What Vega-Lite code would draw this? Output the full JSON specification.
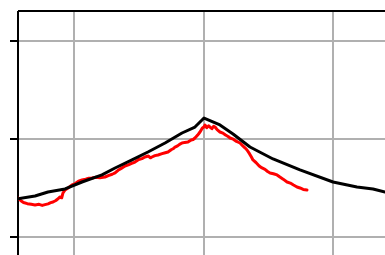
{
  "$schema": "https://vega.github.io/schema/vega-lite/v6.json",
  "width": 367,
  "height": 244,
  "autosize": {"type": "none"},
  "padding": {"left": 18, "top": 11, "right": 0, "bottom": 0},
  "background": "white",
  "config": {"view": {"stroke": null}},
  "datasets": {
    "model": [
      {"x": 0.560, "y": 0.388}, {"x": 0.699, "y": 0.418}, {"x": 0.799, "y": 0.459},
      {"x": 0.931, "y": 0.490}, {"x": 1.062, "y": 0.561}, {"x": 1.216, "y": 0.633},
      {"x": 1.317, "y": 0.704}, {"x": 1.448, "y": 0.786}, {"x": 1.571, "y": 0.867},
      {"x": 1.703, "y": 0.959}, {"x": 1.834, "y": 1.061}, {"x": 1.934, "y": 1.122},
      {"x": 2.004, "y": 1.214}, {"x": 2.127, "y": 1.143}, {"x": 2.228, "y": 1.051},
      {"x": 2.359, "y": 0.918}, {"x": 2.537, "y": 0.796}, {"x": 2.745, "y": 0.684},
      {"x": 3.000, "y": 0.561}, {"x": 3.185, "y": 0.510}, {"x": 3.309, "y": 0.490},
      {"x": 3.402, "y": 0.459}
    ],
    "obs": [
      {"x": 0.568, "y": 0.398}, {"x": 0.590, "y": 0.370}, {"x": 0.610, "y": 0.352},
      {"x": 0.640, "y": 0.340}, {"x": 0.670, "y": 0.333}, {"x": 0.699, "y": 0.327},
      {"x": 0.730, "y": 0.333}, {"x": 0.755, "y": 0.322}, {"x": 0.776, "y": 0.330},
      {"x": 0.800, "y": 0.338}, {"x": 0.820, "y": 0.350}, {"x": 0.838, "y": 0.357},
      {"x": 0.860, "y": 0.372}, {"x": 0.878, "y": 0.392}, {"x": 0.892, "y": 0.408},
      {"x": 0.905, "y": 0.400}, {"x": 0.915, "y": 0.449}, {"x": 0.931, "y": 0.480},
      {"x": 0.960, "y": 0.505}, {"x": 0.985, "y": 0.531}, {"x": 1.010, "y": 0.545},
      {"x": 1.035, "y": 0.570}, {"x": 1.062, "y": 0.582}, {"x": 1.090, "y": 0.590},
      {"x": 1.115, "y": 0.600}, {"x": 1.139, "y": 0.602}, {"x": 1.170, "y": 0.610},
      {"x": 1.200, "y": 0.604}, {"x": 1.239, "y": 0.612}, {"x": 1.270, "y": 0.628},
      {"x": 1.295, "y": 0.640}, {"x": 1.317, "y": 0.653}, {"x": 1.340, "y": 0.680},
      {"x": 1.365, "y": 0.700}, {"x": 1.394, "y": 0.724}, {"x": 1.420, "y": 0.735},
      {"x": 1.445, "y": 0.750}, {"x": 1.471, "y": 0.765}, {"x": 1.500, "y": 0.790},
      {"x": 1.525, "y": 0.800}, {"x": 1.548, "y": 0.816}, {"x": 1.575, "y": 0.826},
      {"x": 1.590, "y": 0.808}, {"x": 1.602, "y": 0.816}, {"x": 1.625, "y": 0.830},
      {"x": 1.649, "y": 0.837}, {"x": 1.680, "y": 0.850}, {"x": 1.705, "y": 0.860},
      {"x": 1.726, "y": 0.867}, {"x": 1.750, "y": 0.890}, {"x": 1.765, "y": 0.900},
      {"x": 1.780, "y": 0.918}, {"x": 1.800, "y": 0.930}, {"x": 1.815, "y": 0.945},
      {"x": 1.834, "y": 0.959}, {"x": 1.855, "y": 0.965}, {"x": 1.880, "y": 0.969},
      {"x": 1.905, "y": 0.990}, {"x": 1.920, "y": 0.995}, {"x": 1.934, "y": 1.010},
      {"x": 1.955, "y": 1.040}, {"x": 1.973, "y": 1.071}, {"x": 1.990, "y": 1.110},
      {"x": 2.005, "y": 1.125}, {"x": 2.012, "y": 1.143}, {"x": 2.025, "y": 1.115},
      {"x": 2.040, "y": 1.135}, {"x": 2.050, "y": 1.122}, {"x": 2.065, "y": 1.105},
      {"x": 2.078, "y": 1.130}, {"x": 2.089, "y": 1.122}, {"x": 2.105, "y": 1.095},
      {"x": 2.127, "y": 1.071}, {"x": 2.150, "y": 1.060}, {"x": 2.170, "y": 1.040},
      {"x": 2.190, "y": 1.025}, {"x": 2.205, "y": 1.010}, {"x": 2.230, "y": 0.998},
      {"x": 2.255, "y": 0.975}, {"x": 2.282, "y": 0.959}, {"x": 2.300, "y": 0.935},
      {"x": 2.320, "y": 0.910}, {"x": 2.336, "y": 0.888}, {"x": 2.355, "y": 0.850},
      {"x": 2.370, "y": 0.815}, {"x": 2.382, "y": 0.786}, {"x": 2.405, "y": 0.760},
      {"x": 2.430, "y": 0.725}, {"x": 2.452, "y": 0.704}, {"x": 2.475, "y": 0.690},
      {"x": 2.495, "y": 0.668}, {"x": 2.514, "y": 0.653}, {"x": 2.540, "y": 0.645},
      {"x": 2.568, "y": 0.633}, {"x": 2.590, "y": 0.612}, {"x": 2.615, "y": 0.590},
      {"x": 2.645, "y": 0.561}, {"x": 2.670, "y": 0.550}, {"x": 2.695, "y": 0.530},
      {"x": 2.722, "y": 0.510}, {"x": 2.745, "y": 0.500}, {"x": 2.770, "y": 0.485},
      {"x": 2.799, "y": 0.480}
    ]
  },
  "encoding": {
    "x": {"field": "x", "type": "quantitative",
      "scale": {"domain": [0.5676, 3.4015], "nice": false, "zero": false},
      "axis": {"orient": "top", "values": [1, 2, 3], "title": null, "labels": false, "ticks": false,
        "domain": true, "domainColor": "black", "domainWidth": 2, "translate": 0,
        "grid": true, "gridColor": "#b0b0b0", "gridWidth": 2}},
    "y": {"field": "y", "type": "quantitative",
      "scale": {"domain": [-0.184, 2.306], "nice": false, "zero": false},
      "axis": {"orient": "left", "values": [0, 1, 2], "title": null, "labels": false,
        "ticks": true, "tickSize": 8, "tickWidth": 2, "tickColor": "black", "translate": 0,
        "domain": true, "domainColor": "black", "domainWidth": 2,
        "grid": true, "gridColor": "#b0b0b0", "gridWidth": 2}},
    "order": {"field": "x", "type": "quantitative"}
  },
  "layer": [
    {"data": {"name": "obs"},
     "mark": {"type": "line", "color": "#ff0000", "strokeWidth": 3, "clip": true, "strokeJoin": "round", "strokeCap": "round"}},
    {"data": {"name": "model"},
     "mark": {"type": "line", "color": "#000000", "strokeWidth": 3, "clip": true, "strokeJoin": "round", "strokeCap": "round"}}
  ]
}
